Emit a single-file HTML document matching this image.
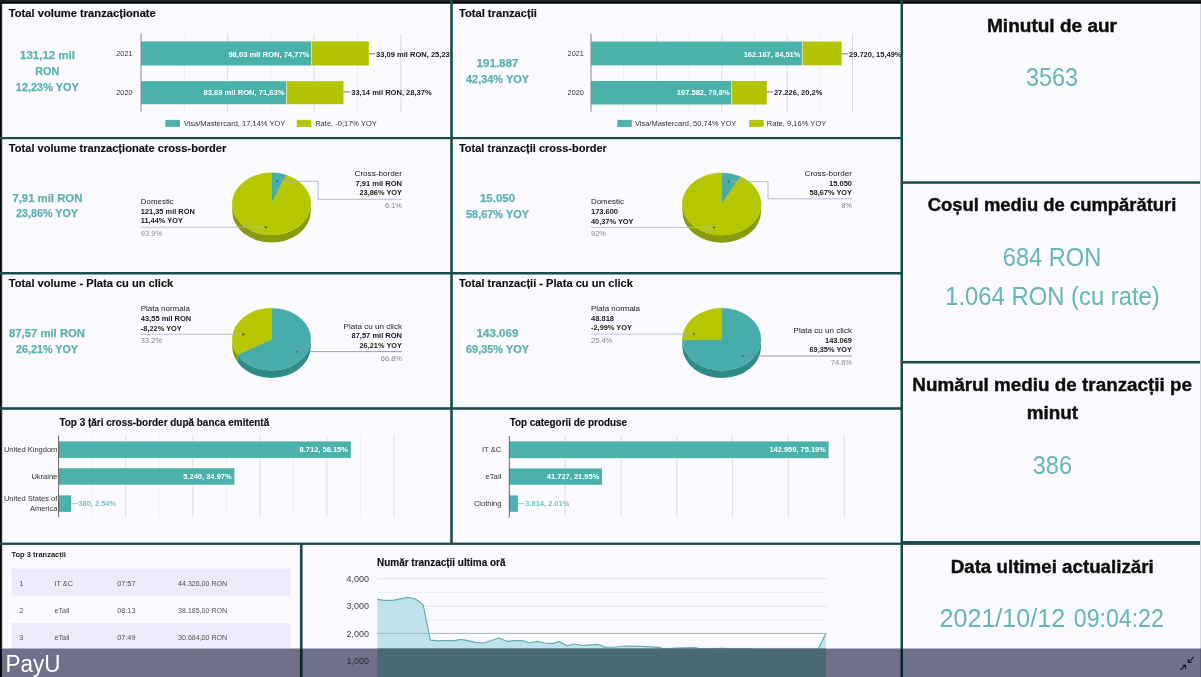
<!DOCTYPE html>
<html><head><meta charset="utf-8"><title>Dashboard</title>
<style>html,body{margin:0;padding:0;background:#fafaff;overflow:hidden}svg{display:block}text{font-family:"Liberation Sans",sans-serif}</style></head>
<body>
<svg width="1201" height="677" viewBox="0 0 1201 677" font-family="Liberation Sans, sans-serif">
<defs><filter id="bl" filterUnits="userSpaceOnUse" x="-10" y="-10" width="1221" height="697"><feGaussianBlur stdDeviation="0.38"/></filter></defs>
<g filter="url(#bl)">
<rect x="-10.00" y="-10.00" width="1221.00" height="697.00" fill="#fafaff"/>
<defs><clipPath id="c1"><rect x="0" y="0" width="450.5" height="137"/></clipPath><clipPath id="c2"><rect x="452" y="0" width="449" height="137"/></clipPath></defs>
<g clip-path="url(#c1)">
<text x="8.8" y="17.0" font-size="10.8" font-weight="bold" stroke="#101014" stroke-width="0.15" fill="#101014" text-anchor="start" textLength="147.0" lengthAdjust="spacingAndGlyphs">Total volume tranzacționate</text>
<text x="47.5" y="59.3" font-size="11.4" font-weight="bold" stroke="#5cb1b4" stroke-width="0.25" fill="#5cb1b4" text-anchor="middle" textLength="55.0" lengthAdjust="spacingAndGlyphs">131,12 mil</text>
<text x="47.2" y="75.0" font-size="11.4" font-weight="bold" stroke="#5cb1b4" stroke-width="0.25" fill="#5cb1b4" text-anchor="middle" textLength="24.0" lengthAdjust="spacingAndGlyphs">RON</text>
<text x="47.3" y="90.7" font-size="11.4" font-weight="bold" stroke="#5cb1b4" stroke-width="0.25" fill="#5cb1b4" text-anchor="middle" textLength="63.0" lengthAdjust="spacingAndGlyphs">12,23% YOY</text>
<line x1="184.30" y1="33.70" x2="184.30" y2="111.80" stroke="#eeeef6" stroke-width="1"/>
<line x1="227.60" y1="33.70" x2="227.60" y2="111.80" stroke="#dcdce8" stroke-width="1"/>
<line x1="270.90" y1="33.70" x2="270.90" y2="111.80" stroke="#eeeef6" stroke-width="1"/>
<line x1="314.20" y1="33.70" x2="314.20" y2="111.80" stroke="#dcdce8" stroke-width="1"/>
<line x1="357.50" y1="33.70" x2="357.50" y2="111.80" stroke="#eeeef6" stroke-width="1"/>
<line x1="400.80" y1="33.70" x2="400.80" y2="111.80" stroke="#dcdce8" stroke-width="1"/>
<rect x="141.00" y="41.40" width="170.40" height="24.10" fill="#4bb1ab"/>
<rect x="311.40" y="41.40" width="57.40" height="24.10" fill="#b4c400"/>
<line x1="311.40" y1="41.40" x2="311.40" y2="65.50" stroke="#e8f4f0" stroke-width="0.6"/>
<text x="309.4" y="56.8" font-size="8" font-weight="bold" fill="#fff" text-anchor="end" textLength="81.0" lengthAdjust="spacingAndGlyphs">98,03 mil RON, 74,77%</text>
<line x1="368.80" y1="53.85" x2="375.00" y2="53.85" stroke="#555" stroke-width="0.8"/>
<text x="376.0" y="56.8" font-size="8" font-weight="bold" fill="#1a1a1a" text-anchor="start" textLength="80.5" lengthAdjust="spacingAndGlyphs">33,09 mil RON, 25,23%</text>
<text x="124.4" y="56.1" font-size="7.5" fill="#333" text-anchor="middle" textLength="16.2" lengthAdjust="spacingAndGlyphs">2021</text>
<rect x="141.00" y="81.20" width="145.50" height="23.00" fill="#4bb1ab"/>
<rect x="286.50" y="81.20" width="57.00" height="23.00" fill="#b4c400"/>
<line x1="286.50" y1="81.20" x2="286.50" y2="104.20" stroke="#e8f4f0" stroke-width="0.6"/>
<text x="284.5" y="94.8" font-size="8" font-weight="bold" fill="#fff" text-anchor="end" textLength="81.0" lengthAdjust="spacingAndGlyphs">83,69 mil RON, 71,63%</text>
<line x1="343.50" y1="91.90" x2="350.20" y2="91.90" stroke="#555" stroke-width="0.8"/>
<text x="351.2" y="94.8" font-size="8" font-weight="bold" fill="#1a1a1a" text-anchor="start" textLength="80.5" lengthAdjust="spacingAndGlyphs">33,14 mil RON, 28,37%</text>
<text x="124.4" y="95.3" font-size="7.5" fill="#333" text-anchor="middle" textLength="16.2" lengthAdjust="spacingAndGlyphs">2020</text>
<line x1="141.00" y1="33.70" x2="141.00" y2="111.80" stroke="#8a8a92" stroke-width="1"/>
<rect x="165.40" y="119.90" width="14.50" height="7.00" fill="#4bb1ab"/>
<text x="183.8" y="126.2" font-size="7.8" fill="#333" text-anchor="start" textLength="101.5" lengthAdjust="spacingAndGlyphs">Visa/Mastercard, 17,14% YOY</text>
<rect x="296.80" y="119.90" width="14.50" height="7.00" fill="#b4c400"/>
<text x="315.2" y="126.2" font-size="7.8" fill="#333" text-anchor="start" textLength="61.7" lengthAdjust="spacingAndGlyphs">Rate, -0,17% YOY</text>
</g>
<g clip-path="url(#c2)">
<text x="458.9" y="17.0" font-size="10.8" font-weight="bold" stroke="#101014" stroke-width="0.15" fill="#101014" text-anchor="start" textLength="78.0" lengthAdjust="spacingAndGlyphs">Total tranzacții</text>
<text x="497.5" y="66.8" font-size="11.4" font-weight="bold" stroke="#5cb1b4" stroke-width="0.25" fill="#5cb1b4" text-anchor="middle" textLength="42.0" lengthAdjust="spacingAndGlyphs">191.887</text>
<text x="497.5" y="82.5" font-size="11.4" font-weight="bold" stroke="#5cb1b4" stroke-width="0.25" fill="#5cb1b4" text-anchor="middle" textLength="63.0" lengthAdjust="spacingAndGlyphs">42,34% YOY</text>
<line x1="623.70" y1="33.70" x2="623.70" y2="111.80" stroke="#eeeef6" stroke-width="1"/>
<line x1="656.40" y1="33.70" x2="656.40" y2="111.80" stroke="#dcdce8" stroke-width="1"/>
<line x1="689.10" y1="33.70" x2="689.10" y2="111.80" stroke="#eeeef6" stroke-width="1"/>
<line x1="721.80" y1="33.70" x2="721.80" y2="111.80" stroke="#dcdce8" stroke-width="1"/>
<line x1="754.50" y1="33.70" x2="754.50" y2="111.80" stroke="#eeeef6" stroke-width="1"/>
<line x1="787.20" y1="33.70" x2="787.20" y2="111.80" stroke="#dcdce8" stroke-width="1"/>
<line x1="819.80" y1="33.70" x2="819.80" y2="111.80" stroke="#eeeef6" stroke-width="1"/>
<line x1="852.50" y1="33.70" x2="852.50" y2="111.80" stroke="#dcdce8" stroke-width="1"/>
<rect x="591.00" y="41.50" width="211.40" height="23.90" fill="#4bb1ab"/>
<rect x="802.40" y="41.50" width="39.20" height="23.90" fill="#b4c400"/>
<line x1="802.40" y1="41.50" x2="802.40" y2="65.40" stroke="#e8f4f0" stroke-width="0.6"/>
<text x="800.4" y="56.8" font-size="8" font-weight="bold" fill="#fff" text-anchor="end" textLength="56.7" lengthAdjust="spacingAndGlyphs">162.167, 84,51%</text>
<line x1="841.60" y1="53.85" x2="848.00" y2="53.85" stroke="#555" stroke-width="0.8"/>
<text x="849.0" y="56.8" font-size="8" font-weight="bold" fill="#1a1a1a" text-anchor="start" textLength="52.5" lengthAdjust="spacingAndGlyphs">29.720, 15,49%</text>
<text x="575.7" y="56.1" font-size="7.5" fill="#333" text-anchor="middle" textLength="16.2" lengthAdjust="spacingAndGlyphs">2021</text>
<rect x="591.00" y="81.00" width="140.60" height="23.50" fill="#4bb1ab"/>
<rect x="731.60" y="81.00" width="35.20" height="23.50" fill="#b4c400"/>
<line x1="731.60" y1="81.00" x2="731.60" y2="104.50" stroke="#e8f4f0" stroke-width="0.6"/>
<text x="729.6" y="94.8" font-size="8" font-weight="bold" fill="#fff" text-anchor="end" textLength="52.8" lengthAdjust="spacingAndGlyphs">107.582, 79,8%</text>
<line x1="766.80" y1="91.95" x2="772.90" y2="91.95" stroke="#555" stroke-width="0.8"/>
<text x="773.9" y="94.8" font-size="8" font-weight="bold" fill="#1a1a1a" text-anchor="start" textLength="48.5" lengthAdjust="spacingAndGlyphs">27.226, 20,2%</text>
<text x="575.7" y="95.3" font-size="7.5" fill="#333" text-anchor="middle" textLength="16.2" lengthAdjust="spacingAndGlyphs">2020</text>
<line x1="591.00" y1="33.70" x2="591.00" y2="111.80" stroke="#8a8a92" stroke-width="1"/>
<rect x="617.30" y="119.90" width="14.50" height="7.00" fill="#4bb1ab"/>
<text x="634.9" y="126.2" font-size="7.8" fill="#333" text-anchor="start" textLength="101.4" lengthAdjust="spacingAndGlyphs">Visa/Mastercard, 50,74% YOY</text>
<rect x="749.20" y="119.90" width="14.50" height="7.00" fill="#b4c400"/>
<text x="766.8" y="126.2" font-size="7.8" fill="#333" text-anchor="start" textLength="59.5" lengthAdjust="spacingAndGlyphs">Rate, 9,16% YOY</text>
</g>
<text x="8.8" y="152.0" font-size="10.8" font-weight="bold" stroke="#101014" stroke-width="0.15" fill="#101014" text-anchor="start" textLength="217.5" lengthAdjust="spacingAndGlyphs">Total volume tranzacționate cross-border</text>
<text x="47.4" y="201.6" font-size="11.4" font-weight="bold" stroke="#5cb1b4" stroke-width="0.25" fill="#5cb1b4" text-anchor="middle" textLength="70.0" lengthAdjust="spacingAndGlyphs">7,91 mil RON</text>
<text x="47.0" y="217.4" font-size="11.4" font-weight="bold" stroke="#5cb1b4" stroke-width="0.25" fill="#5cb1b4" text-anchor="middle" textLength="62.0" lengthAdjust="spacingAndGlyphs">23,86% YOY</text>
<path d="M310.70,203.90 A39.2,31.1 0 0 1 232.30,203.90 L232.30,211.40 A39.2,31.1 0 0 0 310.70,211.40 Z" fill="#8a9a08"/>
<path d="M271.50,203.90 L271.50,172.80 A39.2,31.1 0 0 1 286.16,175.06 Z" fill="#47acaa" stroke="#47acaa" stroke-width="0.5"/>
<path d="M271.50,203.90 L286.16,175.06 A39.2,31.1 0 1 1 271.50,172.80 Z" fill="#b5c700" stroke="#b5c700" stroke-width="0.5"/>
<path d="M277.5,181.3 H318 V199.3 H402" fill="none" stroke="#a8acc0" stroke-width="0.8"/>
<circle cx="277.5" cy="181.3" r="1.2" fill="#2f7f85"/>
<text x="402.0" y="175.9" font-size="8" fill="#1a1a1a" text-anchor="end" textLength="47.5" lengthAdjust="spacingAndGlyphs">Cross-border</text>
<text x="402.0" y="185.9" font-size="7.8" font-weight="bold" fill="#1a1a1a" text-anchor="end" textLength="46.5" lengthAdjust="spacingAndGlyphs">7,91 mil RON</text>
<text x="402.0" y="195.4" font-size="7.8" font-weight="bold" fill="#1a1a1a" text-anchor="end" textLength="42.5" lengthAdjust="spacingAndGlyphs">23,86% YOY</text>
<text x="402.0" y="207.7" font-size="7.5" fill="#888" text-anchor="end">6.1%</text>
<path d="M140.5,227.2 H265.8" fill="none" stroke="#b4b8d0" stroke-width="0.8"/>
<circle cx="265.8" cy="227.2" r="1.2" fill="#6f7a00"/>
<text x="140.8" y="203.6" font-size="8" fill="#1a1a1a" text-anchor="start" textLength="33.0" lengthAdjust="spacingAndGlyphs">Domestic</text>
<text x="140.8" y="213.6" font-size="7.8" font-weight="bold" fill="#1a1a1a" text-anchor="start" textLength="54.0" lengthAdjust="spacingAndGlyphs">121,35 mil RON</text>
<text x="140.8" y="223.2" font-size="7.8" font-weight="bold" fill="#1a1a1a" text-anchor="start" textLength="42.0" lengthAdjust="spacingAndGlyphs">11,44% YOY</text>
<text x="140.8" y="236.2" font-size="7.5" fill="#888" text-anchor="start">93.9%</text>
<text x="458.9" y="152.0" font-size="10.8" font-weight="bold" stroke="#101014" stroke-width="0.15" fill="#101014" text-anchor="start" textLength="148.0" lengthAdjust="spacingAndGlyphs">Total tranzacții cross-border</text>
<text x="497.5" y="201.8" font-size="11.4" font-weight="bold" stroke="#5cb1b4" stroke-width="0.25" fill="#5cb1b4" text-anchor="middle" textLength="35.0" lengthAdjust="spacingAndGlyphs">15.050</text>
<text x="497.5" y="217.5" font-size="11.4" font-weight="bold" stroke="#5cb1b4" stroke-width="0.25" fill="#5cb1b4" text-anchor="middle" textLength="63.0" lengthAdjust="spacingAndGlyphs">58,67% YOY</text>
<path d="M761.00,204.10 A39.3,31.1 0 0 1 682.40,204.10 L682.40,211.60 A39.3,31.1 0 0 0 761.00,211.60 Z" fill="#8a9a08"/>
<path d="M721.70,204.10 L721.70,173.00 A39.3,31.1 0 0 1 740.63,176.85 Z" fill="#47acaa" stroke="#47acaa" stroke-width="0.5"/>
<path d="M721.70,204.10 L740.63,176.85 A39.3,31.1 0 1 1 721.70,173.00 Z" fill="#b5c700" stroke="#b5c700" stroke-width="0.5"/>
<path d="M728.8,181.6 H768 V198.8 H852" fill="none" stroke="#a8acc0" stroke-width="0.8"/>
<circle cx="728.8" cy="181.6" r="1.2" fill="#2f7f85"/>
<text x="852.0" y="176.2" font-size="8" fill="#1a1a1a" text-anchor="end" textLength="47.5" lengthAdjust="spacingAndGlyphs">Cross-border</text>
<text x="852.0" y="185.9" font-size="7.8" font-weight="bold" fill="#1a1a1a" text-anchor="end" textLength="23.0" lengthAdjust="spacingAndGlyphs">15.050</text>
<text x="852.0" y="194.9" font-size="7.8" font-weight="bold" fill="#1a1a1a" text-anchor="end" textLength="42.5" lengthAdjust="spacingAndGlyphs">58,67% YOY</text>
<text x="852.0" y="208.2" font-size="7.5" fill="#888" text-anchor="end">8%</text>
<path d="M591,227.4 H714" fill="none" stroke="#b4b8d0" stroke-width="0.8"/>
<circle cx="714" cy="227.4" r="1.2" fill="#6f7a00"/>
<text x="591.0" y="204.3" font-size="8" fill="#1a1a1a" text-anchor="start" textLength="33.0" lengthAdjust="spacingAndGlyphs">Domestic</text>
<text x="591.0" y="214.1" font-size="7.8" font-weight="bold" fill="#1a1a1a" text-anchor="start" textLength="27.0" lengthAdjust="spacingAndGlyphs">173.600</text>
<text x="591.0" y="223.9" font-size="7.8" font-weight="bold" fill="#1a1a1a" text-anchor="start" textLength="42.5" lengthAdjust="spacingAndGlyphs">40,37% YOY</text>
<text x="591.0" y="236.3" font-size="7.5" fill="#888" text-anchor="start">92%</text>
<text x="8.8" y="287.0" font-size="10.8" font-weight="bold" stroke="#101014" stroke-width="0.15" fill="#101014" text-anchor="start" textLength="164.5" lengthAdjust="spacingAndGlyphs">Total volume - Plata cu un click</text>
<text x="47.0" y="337.4" font-size="11.4" font-weight="bold" stroke="#5cb1b4" stroke-width="0.25" fill="#5cb1b4" text-anchor="middle" textLength="76.0" lengthAdjust="spacingAndGlyphs">87,57 mil RON</text>
<text x="47.0" y="353.1" font-size="11.4" font-weight="bold" stroke="#5cb1b4" stroke-width="0.25" fill="#5cb1b4" text-anchor="middle" textLength="62.0" lengthAdjust="spacingAndGlyphs">26,21% YOY</text>
<path d="M310.70,339.30 A39.2,31.1 0 0 1 237.39,354.62 L237.39,362.12 A39.2,31.1 0 0 0 310.70,346.80 Z" fill="#2f8b87"/>
<path d="M237.39,354.62 A39.2,31.1 0 0 1 232.30,339.30 L232.30,346.80 A39.2,31.1 0 0 0 237.39,362.12 Z" fill="#8a9a08"/>
<path d="M271.50,339.30 L271.50,308.20 A39.2,31.1 0 1 1 237.39,354.62 Z" fill="#47acaa" stroke="#47acaa" stroke-width="0.5"/>
<path d="M271.50,339.30 L237.39,354.62 A39.2,31.1 0 0 1 271.50,308.20 Z" fill="#b5c700" stroke="#b5c700" stroke-width="0.5"/>
<path d="M140.5,334.3 H243.2" fill="none" stroke="#b4b8d0" stroke-width="0.8"/>
<circle cx="243.2" cy="334.3" r="1.2" fill="#6f7a00"/>
<text x="140.8" y="311.2" font-size="8" fill="#1a1a1a" text-anchor="start" textLength="49.0" lengthAdjust="spacingAndGlyphs">Plata normala</text>
<text x="140.8" y="321.2" font-size="7.8" font-weight="bold" fill="#1a1a1a" text-anchor="start" textLength="50.5" lengthAdjust="spacingAndGlyphs">43,55 mil RON</text>
<text x="140.8" y="331.1" font-size="7.8" font-weight="bold" fill="#1a1a1a" text-anchor="start" textLength="41.0" lengthAdjust="spacingAndGlyphs">-8,22% YOY</text>
<text x="140.8" y="343.3" font-size="7.5" fill="#888" text-anchor="start">33.2%</text>
<path d="M296.8,351.6 H402" fill="none" stroke="#80859a" stroke-width="0.8"/>
<circle cx="296.8" cy="351.6" r="1.2" fill="#2f7f85"/>
<text x="402.0" y="328.8" font-size="8" fill="#1a1a1a" text-anchor="end" textLength="58.5" lengthAdjust="spacingAndGlyphs">Plata cu un click</text>
<text x="402.0" y="338.4" font-size="7.8" font-weight="bold" fill="#1a1a1a" text-anchor="end" textLength="50.5" lengthAdjust="spacingAndGlyphs">87,57 mil RON</text>
<text x="402.0" y="347.9" font-size="7.8" font-weight="bold" fill="#1a1a1a" text-anchor="end" textLength="42.5" lengthAdjust="spacingAndGlyphs">26,21% YOY</text>
<text x="402.0" y="360.8" font-size="7.5" fill="#888" text-anchor="end">66.8%</text>
<text x="458.9" y="287.0" font-size="10.8" font-weight="bold" stroke="#101014" stroke-width="0.15" fill="#101014" text-anchor="start" textLength="174.0" lengthAdjust="spacingAndGlyphs">Total tranzacții - Plata cu un click</text>
<text x="497.5" y="336.8" font-size="11.4" font-weight="bold" stroke="#5cb1b4" stroke-width="0.25" fill="#5cb1b4" text-anchor="middle" textLength="42.0" lengthAdjust="spacingAndGlyphs">143.069</text>
<text x="497.5" y="352.5" font-size="11.4" font-weight="bold" stroke="#5cb1b4" stroke-width="0.25" fill="#5cb1b4" text-anchor="middle" textLength="63.0" lengthAdjust="spacingAndGlyphs">69,35% YOY</text>
<path d="M761.00,339.30 A39.3,31.1 0 0 1 682.41,340.08 L682.41,347.58 A39.3,31.1 0 0 0 761.00,346.80 Z" fill="#2f8b87"/>
<path d="M682.41,340.08 A39.3,31.1 0 0 1 682.40,339.30 L682.40,346.80 A39.3,31.1 0 0 0 682.41,347.58 Z" fill="#8a9a08"/>
<path d="M721.70,339.30 L721.70,308.20 A39.3,31.1 0 1 1 682.41,340.08 Z" fill="#47acaa" stroke="#47acaa" stroke-width="0.5"/>
<path d="M721.70,339.30 L682.41,340.08 A39.3,31.1 0 0 1 721.70,308.20 Z" fill="#b5c700" stroke="#b5c700" stroke-width="0.5"/>
<path d="M591,334.1 H693.8" fill="none" stroke="#b4b8d0" stroke-width="0.8"/>
<circle cx="693.8" cy="334.1" r="1.2" fill="#6f7a00"/>
<text x="591.0" y="311.2" font-size="8" fill="#1a1a1a" text-anchor="start" textLength="49.0" lengthAdjust="spacingAndGlyphs">Plata normala</text>
<text x="591.0" y="320.9" font-size="7.8" font-weight="bold" fill="#1a1a1a" text-anchor="start" textLength="23.0" lengthAdjust="spacingAndGlyphs">48.818</text>
<text x="591.0" y="330.3" font-size="7.8" font-weight="bold" fill="#1a1a1a" text-anchor="start" textLength="41.0" lengthAdjust="spacingAndGlyphs">-2,99% YOY</text>
<text x="591.0" y="343.3" font-size="7.5" fill="#888" text-anchor="start">25.4%</text>
<path d="M742.6,356 H852" fill="none" stroke="#80859a" stroke-width="0.8"/>
<circle cx="742.6" cy="356" r="1.2" fill="#2f7f85"/>
<text x="852.0" y="333.1" font-size="8" fill="#1a1a1a" text-anchor="end" textLength="58.5" lengthAdjust="spacingAndGlyphs">Plata cu un click</text>
<text x="852.0" y="342.5" font-size="7.8" font-weight="bold" fill="#1a1a1a" text-anchor="end" textLength="27.0" lengthAdjust="spacingAndGlyphs">143.069</text>
<text x="852.0" y="351.8" font-size="7.8" font-weight="bold" fill="#1a1a1a" text-anchor="end" textLength="42.5" lengthAdjust="spacingAndGlyphs">69,35% YOY</text>
<text x="852.0" y="365.2" font-size="7.5" fill="#888" text-anchor="end">74.6%</text>
<text x="59.4" y="426.2" font-size="10" font-weight="bold" stroke="#101014" stroke-width="0.15" fill="#101014" text-anchor="start" textLength="209.8" lengthAdjust="spacingAndGlyphs">Top 3 țări cross-border după banca emitentă</text>
<line x1="92.14" y1="435.60" x2="92.14" y2="517.20" stroke="#efeff6" stroke-width="1"/>
<line x1="125.68" y1="435.60" x2="125.68" y2="517.20" stroke="#dfdfea" stroke-width="1"/>
<line x1="159.22" y1="435.60" x2="159.22" y2="517.20" stroke="#efeff6" stroke-width="1"/>
<line x1="192.76" y1="435.60" x2="192.76" y2="517.20" stroke="#dfdfea" stroke-width="1"/>
<line x1="226.30" y1="435.60" x2="226.30" y2="517.20" stroke="#efeff6" stroke-width="1"/>
<line x1="259.84" y1="435.60" x2="259.84" y2="517.20" stroke="#dfdfea" stroke-width="1"/>
<line x1="293.38" y1="435.60" x2="293.38" y2="517.20" stroke="#efeff6" stroke-width="1"/>
<line x1="326.92" y1="435.60" x2="326.92" y2="517.20" stroke="#dfdfea" stroke-width="1"/>
<line x1="360.46" y1="435.60" x2="360.46" y2="517.20" stroke="#efeff6" stroke-width="1"/>
<line x1="394.00" y1="435.60" x2="394.00" y2="517.20" stroke="#dfdfea" stroke-width="1"/>
<rect x="58.60" y="441.40" width="292.20" height="16.50" fill="#4bb1ab"/>
<rect x="58.60" y="468.20" width="175.80" height="16.50" fill="#4bb1ab"/>
<rect x="58.60" y="495.40" width="12.60" height="16.50" fill="#4bb1ab"/>
<line x1="58.60" y1="435.60" x2="58.60" y2="517.20" stroke="#555" stroke-width="0.9"/>
<text x="57.4" y="452.1" font-size="7.5" fill="#333" text-anchor="end" textLength="53.5" lengthAdjust="spacingAndGlyphs">United Kingdom</text>
<text x="57.4" y="479.3" font-size="7.5" fill="#333" text-anchor="end" textLength="26.0" lengthAdjust="spacingAndGlyphs">Ukraine</text>
<text x="57.4" y="500.8" font-size="7.5" fill="#333" text-anchor="end" textLength="53.5" lengthAdjust="spacingAndGlyphs">United States of</text>
<text x="57.4" y="510.8" font-size="7.5" fill="#333" text-anchor="end" textLength="27.5" lengthAdjust="spacingAndGlyphs">America</text>
<text x="348.0" y="452.2" font-size="7.8" font-weight="bold" fill="#fff" text-anchor="end" textLength="48.5" lengthAdjust="spacingAndGlyphs">8.712, 58.15%</text>
<text x="231.7" y="479.4" font-size="7.8" font-weight="bold" fill="#fff" text-anchor="end" textLength="48.5" lengthAdjust="spacingAndGlyphs">5.240, 34.97%</text>
<line x1="71.20" y1="503.60" x2="78.00" y2="503.60" stroke="#7cc" stroke-width="0.8"/>
<text x="78.5" y="506.3" font-size="7.8" font-weight="bold" fill="#74c2c2" text-anchor="start" textLength="37.5" lengthAdjust="spacingAndGlyphs">380, 2.54%</text>
<text x="509.7" y="426.2" font-size="10" font-weight="bold" stroke="#101014" stroke-width="0.15" fill="#101014" text-anchor="start" textLength="117.3" lengthAdjust="spacingAndGlyphs">Top categorii de produse</text>
<line x1="565.20" y1="436.00" x2="565.20" y2="517.70" stroke="#dcdce6" stroke-width="1"/>
<line x1="621.20" y1="436.00" x2="621.20" y2="517.70" stroke="#dcdce6" stroke-width="1"/>
<line x1="676.80" y1="436.00" x2="676.80" y2="517.70" stroke="#dcdce6" stroke-width="1"/>
<line x1="732.40" y1="436.00" x2="732.40" y2="517.70" stroke="#dcdce6" stroke-width="1"/>
<line x1="788.30" y1="436.00" x2="788.30" y2="517.70" stroke="#dcdce6" stroke-width="1"/>
<line x1="844.30" y1="436.00" x2="844.30" y2="517.70" stroke="#dcdce6" stroke-width="1"/>
<rect x="509.30" y="441.40" width="319.30" height="16.80" fill="#4bb1ab"/>
<rect x="509.30" y="468.40" width="92.70" height="16.40" fill="#4bb1ab"/>
<rect x="509.30" y="495.40" width="8.60" height="16.40" fill="#4bb1ab"/>
<line x1="509.30" y1="436.00" x2="509.30" y2="517.70" stroke="#555" stroke-width="0.9"/>
<text x="501.4" y="452.0" font-size="7.5" fill="#333" text-anchor="end" textLength="19.5" lengthAdjust="spacingAndGlyphs">IT &amp;C</text>
<text x="501.4" y="479.3" font-size="7.5" fill="#333" text-anchor="end" textLength="16.0" lengthAdjust="spacingAndGlyphs">eTail</text>
<text x="501.4" y="506.3" font-size="7.5" fill="#333" text-anchor="end" textLength="27.5" lengthAdjust="spacingAndGlyphs">Clothing</text>
<text x="825.9" y="452.2" font-size="7.8" font-weight="bold" fill="#fff" text-anchor="end" textLength="56.5" lengthAdjust="spacingAndGlyphs">142.959, 75.19%</text>
<text x="599.3" y="479.4" font-size="7.8" font-weight="bold" fill="#fff" text-anchor="end" textLength="52.5" lengthAdjust="spacingAndGlyphs">41.727, 21.95%</text>
<line x1="517.90" y1="503.60" x2="524.50" y2="503.60" stroke="#7cc" stroke-width="0.8"/>
<text x="525.3" y="506.3" font-size="7.8" font-weight="bold" fill="#74c2c2" text-anchor="start" textLength="44.0" lengthAdjust="spacingAndGlyphs">3.814, 2.01%</text>
<text x="11.5" y="557.2" font-size="7.5" font-weight="bold" fill="#1a1a1a" text-anchor="start" textLength="54.4" lengthAdjust="spacingAndGlyphs">Top 3 tranzacții</text>
<rect x="11.50" y="568.70" width="278.80" height="27.60" fill="#ebebfa"/>
<rect x="11.50" y="623.10" width="278.80" height="27.00" fill="#ebebfa"/>
<text x="19.2" y="585.5" font-size="7.3" fill="#555" text-anchor="start">1</text>
<text x="54.4" y="585.5" font-size="7.3" fill="#555" text-anchor="start">IT &amp;C</text>
<text x="117.2" y="585.5" font-size="7.3" fill="#555" text-anchor="start">07:57</text>
<text x="178.1" y="585.5" font-size="7.3" fill="#555" text-anchor="start" textLength="49.0" lengthAdjust="spacingAndGlyphs">44.326,00 RON</text>
<text x="19.2" y="612.7" font-size="7.3" fill="#555" text-anchor="start">2</text>
<text x="54.4" y="612.7" font-size="7.3" fill="#555" text-anchor="start">eTail</text>
<text x="117.2" y="612.7" font-size="7.3" fill="#555" text-anchor="start">08:13</text>
<text x="178.1" y="612.7" font-size="7.3" fill="#555" text-anchor="start" textLength="49.0" lengthAdjust="spacingAndGlyphs">38.185,00 RON</text>
<text x="19.2" y="639.9" font-size="7.3" fill="#555" text-anchor="start">3</text>
<text x="54.4" y="639.9" font-size="7.3" fill="#555" text-anchor="start">eTail</text>
<text x="117.2" y="639.9" font-size="7.3" fill="#555" text-anchor="start">07:49</text>
<text x="178.1" y="639.9" font-size="7.3" fill="#555" text-anchor="start" textLength="49.0" lengthAdjust="spacingAndGlyphs">30.684,00 RON</text>
<text x="377.0" y="566.0" font-size="10" font-weight="bold" stroke="#101014" stroke-width="0.15" fill="#101014" text-anchor="start" textLength="128.5" lengthAdjust="spacingAndGlyphs">Număr tranzacții ultima oră</text>
<line x1="377.00" y1="578.76" x2="827.00" y2="578.76" stroke="#e2e2ee" stroke-width="1"/>
<line x1="377.00" y1="592.42" x2="827.00" y2="592.42" stroke="#eeeef6" stroke-width="1"/>
<line x1="377.00" y1="606.09" x2="827.00" y2="606.09" stroke="#e2e2ee" stroke-width="1"/>
<line x1="377.00" y1="619.75" x2="827.00" y2="619.75" stroke="#eeeef6" stroke-width="1"/>
<line x1="377.00" y1="633.42" x2="827.00" y2="633.42" stroke="#e2e2ee" stroke-width="1"/>
<line x1="377.00" y1="647.09" x2="827.00" y2="647.09" stroke="#eeeef6" stroke-width="1"/>
<line x1="377.00" y1="660.75" x2="827.00" y2="660.75" stroke="#e2e2ee" stroke-width="1"/>
<text x="369.0" y="582.0" font-size="9" fill="#444" text-anchor="end" textLength="22.5" lengthAdjust="spacingAndGlyphs">4,000</text>
<text x="369.0" y="609.3" font-size="9" fill="#444" text-anchor="end" textLength="22.5" lengthAdjust="spacingAndGlyphs">3,000</text>
<text x="369.0" y="636.6" font-size="9" fill="#444" text-anchor="end" textLength="22.5" lengthAdjust="spacingAndGlyphs">2,000</text>
<text x="369.0" y="664.0" font-size="9" fill="#444" text-anchor="end" textLength="22.5" lengthAdjust="spacingAndGlyphs">1,000</text>
<path d="M377.2,599.4 L384.4,600.3 L393.0,600.3 L400.6,598.8 L407.3,597.4 L415.0,598.8 L419.8,601.9 L423.2,605.1 L430.3,640.2 L438.9,640.9 L446.6,640.5 L454.3,640.7 L461.0,639.4 L467.7,640.7 L475.3,642.4 L483.0,643.0 L490.6,640.7 L498.7,638.0 L506.9,641.3 L515.5,640.7 L522.2,640.5 L528.9,643.0 L536.6,641.3 L544.3,643.0 L551.9,643.6 L559.6,641.7 L567.2,645.9 L574.5,644.0 L582.6,645.5 L590.2,644.9 L597.9,644.4 L600.0,645.0 L605.0,647.4 L615.0,647.0 L625.0,646.0 L635.0,646.2 L645.0,646.6 L659.0,647.4 L664.0,649.0 L675.0,648.2 L685.0,647.8 L695.0,647.6 L701.0,649.0 L712.0,648.6 L723.0,648.4 L735.0,649.0 L743.0,648.6 L755.0,649.4 L770.0,649.6 L785.0,649.8 L800.0,649.6 L810.0,649.7 L818.0,649.4 L825.8,633.6 L825.8,690 L377.2,690 Z" fill="#bfe3ec"/>
<path d="M377.2,599.4 L384.4,600.3 L393.0,600.3 L400.6,598.8 L407.3,597.4 L415.0,598.8 L419.8,601.9 L423.2,605.1 L430.3,640.2 L438.9,640.9 L446.6,640.5 L454.3,640.7 L461.0,639.4 L467.7,640.7 L475.3,642.4 L483.0,643.0 L490.6,640.7 L498.7,638.0 L506.9,641.3 L515.5,640.7 L522.2,640.5 L528.9,643.0 L536.6,641.3 L544.3,643.0 L551.9,643.6 L559.6,641.7 L567.2,645.9 L574.5,644.0 L582.6,645.5 L590.2,644.9 L597.9,644.4 L600.0,645.0 L605.0,647.4 L615.0,647.0 L625.0,646.0 L635.0,646.2 L645.0,646.6 L659.0,647.4 L664.0,649.0 L675.0,648.2 L685.0,647.8 L695.0,647.6 L701.0,649.0 L712.0,648.6 L723.0,648.4 L735.0,649.0 L743.0,648.6 L755.0,649.4 L770.0,649.6 L785.0,649.8 L800.0,649.6 L810.0,649.7 L818.0,649.4 L825.8,633.6" fill="none" stroke="#62b0b2" stroke-width="1.2" stroke-linejoin="round"/>
<line x1="377.00" y1="633.42" x2="827.00" y2="633.42" stroke="#9fb0b6" stroke-width="0.8"/>
<text x="1052.0" y="31.5" font-size="17.5" font-weight="bold" stroke="#111" stroke-width="0.4" fill="#111" text-anchor="middle" textLength="130.0" lengthAdjust="spacingAndGlyphs">Minutul de aur</text>
<text x="1052.0" y="86.1" font-size="25" fill="#66b5b7" text-anchor="middle" textLength="52.0" lengthAdjust="spacingAndGlyphs">3563</text>
<text x="1052.0" y="211.3" font-size="17.5" font-weight="bold" stroke="#111" stroke-width="0.4" fill="#111" text-anchor="middle" textLength="248.7" lengthAdjust="spacingAndGlyphs">Coșul mediu de cumpărături</text>
<text x="1052.0" y="265.9" font-size="25" fill="#66b5b7" text-anchor="middle" textLength="98.5" lengthAdjust="spacingAndGlyphs">684 RON</text>
<text x="1052.5" y="304.6" font-size="25" fill="#66b5b7" text-anchor="middle" textLength="214.6" lengthAdjust="spacingAndGlyphs">1.064 RON (cu rate)</text>
<text x="1052.2" y="391.0" font-size="17.5" font-weight="bold" stroke="#111" stroke-width="0.4" fill="#111" text-anchor="middle" textLength="279.7" lengthAdjust="spacingAndGlyphs">Numărul mediu de tranzacții pe</text>
<text x="1052.4" y="419.3" font-size="17.5" font-weight="bold" stroke="#111" stroke-width="0.4" fill="#111" text-anchor="middle" textLength="51.3" lengthAdjust="spacingAndGlyphs">minut</text>
<text x="1052.4" y="473.6" font-size="25" fill="#66b5b7" text-anchor="middle" textLength="39.3" lengthAdjust="spacingAndGlyphs">386</text>
<text x="1052.2" y="572.6" font-size="17.5" font-weight="bold" stroke="#111" stroke-width="0.4" fill="#111" text-anchor="middle" textLength="203.0" lengthAdjust="spacingAndGlyphs">Data ultimei actualizări</text>
<text x="939.5" y="626.9" font-size="25" fill="#66b5b7" text-anchor="start" textLength="125.7" lengthAdjust="spacingAndGlyphs">2021/10/12</text>
<text x="1073.8" y="626.9" font-size="25" fill="#66b5b7" text-anchor="start" textLength="90.0" lengthAdjust="spacingAndGlyphs">09:04:22</text>
<rect x="-10.00" y="-10.00" width="1221.00" height="13.80" fill="#143a3c"/>
<rect x="-10.00" y="-10.00" width="1221.00" height="13.20" fill="#000303"/>
<rect x="-10.00" y="-10.00" width="1221.00" height="12.00" fill="#1e1c22"/>
<rect x="-10.00" y="2.00" width="12.20" height="687.00" fill="#143a3c"/>
<rect x="-10.00" y="2.00" width="11.10" height="687.00" fill="#000305"/>
<rect x="450.20" y="0.00" width="2.60" height="543.00" fill="#1c4c4e"/>
<rect x="900.50" y="0.00" width="2.50" height="687.00" fill="#1c4c4e"/>
<rect x="0.00" y="137.00" width="902.00" height="2.20" fill="#1c4c4e"/>
<rect x="0.00" y="272.00" width="902.00" height="2.50" fill="#1c4c4e"/>
<rect x="0.00" y="407.20" width="902.00" height="2.60" fill="#1c4c4e"/>
<rect x="0.00" y="542.60" width="902.00" height="2.30" fill="#1c4c4e"/>
<rect x="902.00" y="541.00" width="309.00" height="3.90" fill="#1c4c4e"/>
<rect x="902.00" y="181.30" width="309.00" height="2.50" fill="#1c4c4e"/>
<rect x="902.00" y="360.90" width="309.00" height="2.60" fill="#1c4c4e"/>
<rect x="299.90" y="543.00" width="2.70" height="144.00" fill="#1c4c4e"/>
<rect x="-10.00" y="648.50" width="1221.00" height="38.50" fill="#70708a"/>
<rect x="377.20" y="648.50" width="448.60" height="38.50" fill="#4a6b75"/>
<text x="369.0" y="664.0" font-size="9" fill="#2c2c3c" text-anchor="end" textLength="22.5" lengthAdjust="spacingAndGlyphs">1,000</text>
<rect x="-10.00" y="648.50" width="12.00" height="38.50" fill="#04090c"/>
<rect x="299.90" y="648.50" width="2.70" height="38.50" fill="#0a262c"/>
<rect x="900.50" y="648.50" width="2.50" height="38.50" fill="#0a262c"/>
<text x="5.5" y="671.5" font-size="23" fill="#fff" text-anchor="start" textLength="55.0" lengthAdjust="spacingAndGlyphs">PayU</text>
<g stroke="#101028" stroke-width="1.1" fill="none" stroke-linecap="round" stroke-linejoin="round"><path d="M1193.3,657.4 L1188.4,662.3 M1188.3,659.4 V662.5 H1191.4"/><path d="M1180.9,669.6 L1185.4,665.3 M1185.6,668.3 V665.2 H1182.5"/></g>
<rect x="1200.00" y="4.00" width="11.00" height="644.50" fill="#d3d8e8"/>
<rect x="1200.00" y="648.50" width="11.00" height="38.50" fill="#566478"/>
</g>
</svg>
</body></html>
